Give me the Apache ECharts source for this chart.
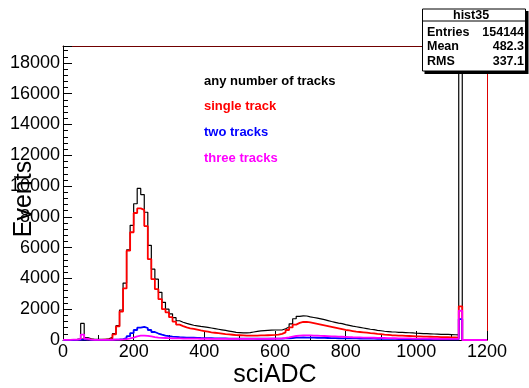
<!DOCTYPE html>
<html><head><meta charset="utf-8">
<script src="https://cdn.jsdelivr.net/npm/echarts@6/dist/echarts.min.js"></script>
<style>html,body{margin:0;padding:0;background:#fff}#c{width:529px;height:388px}</style>
</head><body><div id="c"></div>
<script>
// histogram definition: 120 bins of width 10 from 0 to 1200 (sciADC)
const binLow = 0, binWidth = 10, nBins = 120;
const xTicks = [0, 200, 400, 600, 800, 1000, 1200];
const yTicks = [0, 2000, 4000, 6000, 8000, 10000, 12000, 14000, 16000, 18000];
const seriesNames = ['any number of tracks', 'single track', 'two tracks', 'three tracks'];

const anyTracks = [
  0, 10, 20, 40, 80, 1080, 150, 80, 50, 40,
  40, 50, 80, 180, 420, 930, 1950, 3700, 5850, 7450,
  8850, 9850, 9450, 8300, 6150, 4600, 3950, 3100, 2450, 2000,
  1700, 1450, 1250, 1150, 1080, 1020, 960, 920, 880, 850,
  820, 780, 740, 700, 660, 620, 580, 540, 500, 480,
  460, 460, 480, 520, 560, 590, 610, 630, 640, 650,
  650, 650, 730, 850, 1050, 1380, 1540, 1570, 1560, 1500,
  1460, 1420, 1370, 1320, 1260, 1200, 1150, 1100, 1060, 1000,
  950, 900, 860, 820, 780, 740, 700, 670, 630, 600,
  570, 550, 530, 520, 500, 490, 480, 470, 460, 440,
  430, 420, 410, 400, 390, 380, 370, 360, 360, 350,
  340, 330, 19600, 0, 0, 0, 0, 0, 0, 0
];
const singleTrack = [
  0, 0, 10, 10, 20, 80, 30, 20, 10, 10,
  10, 20, 30, 100, 360, 880, 1850, 3350, 5800, 7000,
  8250, 8550, 8450, 7400, 5250, 3950, 3300, 2650, 2000, 1800,
  1480, 1200, 1000, 900, 820, 760, 720, 670, 620, 580,
  540, 500, 470, 440, 410, 380, 360, 340, 320, 310,
  300, 290, 290, 290, 290, 300, 300, 310, 320, 330,
  350, 400, 500, 650, 820, 1000, 1110, 1170, 1180, 1150,
  1100, 1050, 1000, 950, 900, 850, 800, 750, 700, 650,
  620, 580, 540, 520, 500, 480, 450, 430, 400, 380,
  350, 330, 310, 300, 290, 280, 270, 260, 250, 240,
  230, 220, 220, 210, 200, 200, 190, 180, 180, 170,
  170, 160, 2190, 0, 0, 0, 0, 0, 0, 0
];
const twoTracks = [
  0, 0, 0, 10, 10, 40, 20, 10, 10, 10,
  10, 10, 10, 20, 30, 40, 60, 120, 250, 450,
  650, 800, 850, 780, 650, 520, 420, 350, 290, 250,
  220, 200, 180, 170, 160, 150, 145, 140, 130, 125,
  120, 115, 110, 105, 100, 100, 95, 95, 90, 90,
  90, 85, 85, 85, 80, 80, 80, 80, 80, 85,
  90, 95, 100, 110, 130, 150, 160, 165, 160, 155,
  150, 145, 140, 135, 130, 125, 120, 115, 110, 110,
  105, 100, 100, 95, 90, 90, 85, 85, 80, 80,
  75, 75, 70, 70, 65, 65, 60, 60, 60, 55,
  55, 55, 50, 50, 50, 50, 45, 45, 45, 45,
  45, 45, 1350, 0, 0, 0, 0, 0, 0, 0
];
const threeTracks = [
  10, 10, 20, 30, 60, 350, 80, 20, 10, 10,
  10, 10, 10, 10, 20, 30, 40, 60, 100, 160,
  230, 280, 290, 270, 230, 190, 160, 140, 130, 120,
  110, 105, 100, 95, 90, 90, 85, 85, 80, 80,
  80, 75, 75, 75, 70, 70, 70, 70, 70, 70,
  70, 70, 70, 70, 70, 70, 75, 75, 80, 80,
  90, 100, 130, 170, 220, 260, 290, 300, 300, 295,
  290, 280, 270, 260, 250, 240, 230, 220, 210, 200,
  190, 180, 175, 170, 160, 155, 150, 145, 140, 135,
  130, 125, 120, 115, 110, 105, 100, 100, 95, 95,
  90, 90, 85, 85, 80, 80, 75, 75, 75, 70,
  70, 70, 1900, 0, 0, 0, 0, 0, 0, 0
];
const statsTitle = 'hist35';
const statsRows = [['Entries', '154144'], ['Mean', '482.3'], ['RMS', '337.1']];

const FONT = "'Liberation Sans', Arial, Helvetica, sans-serif";
const colors = ['#000000', '#ff0000', '#0000ff', '#ff00ff'];
const widths = [1.2, 1.8, 1.8, 1.8];

function steps(vals) {
  const pts = vals.map((v, i) => [binLow + i * binWidth, v]);
  pts.push([binLow + nBins * binWidth, 0]);
  return pts;
}

const allData = [anyTracks, singleTrack, twoTracks, threeTracks];
const series = allData.map((d, k) => ({
  name: seriesNames[k],
  type: 'line',
  step: 'end',
  data: steps(d),
  symbol: 'none',
  clip: true,
  xAxisIndex: 0, yAxisIndex: 0,
  lineStyle: { color: colors[k], width: widths[k] },
  itemStyle: { color: colors[k] },
  z: 2 + k
}));

const chart = echarts.init(document.getElementById('c'), null, { renderer: 'canvas' });

const statsText = [];
statsRows.forEach((r, i) => {
  statsText.push({ type: 'text', left: 427, top: 26 + i * 14.3,
    style: { text: r[0], font: 'bold 12.5px ' + FONT, fill: '#000' }, z: 102 });
  statsText.push({ type: 'text', right: 5, top: 26 + i * 14.3,
    style: { text: r[1], font: 'bold 12.5px ' + FONT, fill: '#000', textAlign: 'right' }, z: 102 });
});

const plainNum = v => String(v);

chart.setOption({
  animation: false,
  backgroundColor: '#ffffff',
  textStyle: { fontFamily: FONT },
  grid: { left: 63, right: 42, top: 46, bottom: 48, show: false, containLabel: false, outerBoundsMode: 'none' },
  legend: {
    orient: 'vertical', left: 194, top: 69,
    icon: 'none', itemWidth: 0, itemHeight: 14, itemGap: 12.3,
    selectedMode: false,
    data: seriesNames.map((n, k) => ({ name: n, textStyle: { color: colors[k] } })),
    textStyle: { fontFamily: FONT, fontWeight: 'bold', fontSize: 13 }
  },
  xAxis: [{
    type: 'value', min: xTicks[0], max: xTicks[xTicks.length - 1], interval: 200,
    name: 'sciADC', nameLocation: 'middle', nameGap: 23, nameMoveOverlap: false,
    nameTextStyle: { fontSize: 25, color: '#000', fontFamily: FONT },
    axisLine: { show: true, onZero: false, lineStyle: { color: '#000', width: 1 } },
    axisTick: { show: true, inside: true, length: 9, lineStyle: { color: '#000' } },
    minorTick: { show: true, splitNumber: 2, length: 5, lineStyle: { color: '#000' } },
    axisLabel: { fontSize: 18, color: '#000', margin: 3, fontFamily: FONT, formatter: plainNum },
    splitLine: { show: false }
  }, {
    type: 'value', position: 'top', min: xTicks[0], max: xTicks[xTicks.length - 1],
    axisLine: { show: true, onZero: false, lineStyle: { color: '#700000', width: 1 } },
    axisTick: { show: false }, axisLabel: { show: false }, splitLine: { show: false }
  }],
  yAxis: [{
    type: 'value', min: 0, max: 19100, interval: 2000,
    name: 'Events', nameLocation: 'middle', nameGap: 26, nameMoveOverlap: false,
    nameTextStyle: { fontSize: 25, color: '#000', fontFamily: FONT, padding: [0, 12, 0, 0] },
    axisLine: { show: true, onZero: false, lineStyle: { color: '#000', width: 1 } },
    axisTick: { show: true, inside: true, length: 9, lineStyle: { color: '#000' } },
    minorTick: { show: true, splitNumber: 5, length: 5, lineStyle: { color: '#000' } },
    axisLabel: { fontSize: 18, color: '#000', margin: 3, fontFamily: FONT, showMaxLabel: false, formatter: plainNum },
    splitLine: { show: false }
  }, {
    type: 'value', position: 'right', min: 0, max: 19100,
    axisLine: { show: true, onZero: false, lineStyle: { color: '#dd0000', width: 1 } },
    axisTick: { show: false }, axisLabel: { show: false }, splitLine: { show: false }
  }],
  series: series,
  graphic: [
    { type: 'rect', shape: { x: 424.5, y: 11, width: 104, height: 63 }, style: { fill: '#000' }, z: 100 },
    { type: 'rect', shape: { x: 422.5, y: 9, width: 103, height: 62 }, style: { fill: '#fff', stroke: '#000', lineWidth: 1 }, z: 101 },
    { type: 'line', shape: { x1: 422.5, y1: 21, x2: 525.5, y2: 21 }, style: { stroke: '#000', lineWidth: 1 }, z: 102 },
    { type: 'text', left: 475 - 22, top: 9,
      style: { text: statsTitle, font: 'bold 12.5px ' + FONT, fill: '#000' }, z: 102 }
  ].concat(statsText)
});
</script></body></html>
